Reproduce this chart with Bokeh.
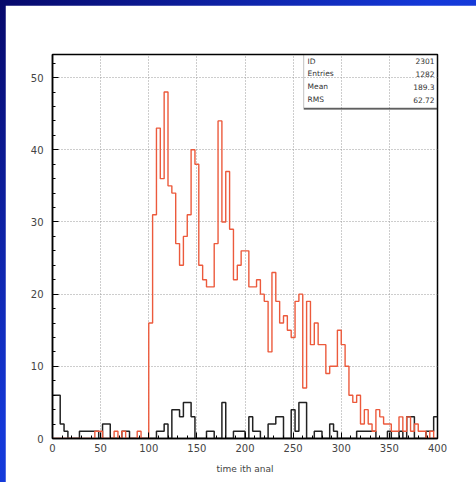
import numpy as np
from bokeh.plotting import figure
from bokeh.models import Range1d, SingleIntervalTicker, BoxAnnotation, ColumnDataSource
from bokeh.core.properties import value
from bokeh.layouts import column
from bokeh.embed import file_html
from bokeh.resources import INLINE

# ---------------- data ----------------
X_MIN, X_MAX, BIN_WIDTH = 0, 400, 4
Y_MAX = 53.2

red_counts = [
    0, 0, 0, 0, 0, 0, 0, 0, 0, 0,
    0, 1, 1, 0, 0, 0, 1, 0, 1, 0,
    0, 0, 1, 0, 0, 16, 31, 43, 36, 48,
    35, 34, 27, 24, 28, 31, 40, 38, 24, 22,
    21, 21, 27, 44, 30, 37, 29, 22, 24, 26,
    26, 21, 21, 22, 20, 19, 12, 23, 19, 16,
    17, 15, 14, 19, 20, 7, 19, 13, 16, 13,
    13, 9, 10, 10, 15, 13, 10, 6, 5, 6,
    2, 4, 2, 1, 4, 3, 2, 2, 1, 1,
    3, 1, 3, 1, 2, 1, 1, 0, 1, 0,
]

black_counts = [
    6, 6, 2, 1, 0, 0, 0, 1, 1, 1,
    1, 1, 0, 2, 2, 0, 0, 0, 1, 1,
    0, 0, 0, 0, 0, 0, 0, 1, 1, 2,
    0, 4, 4, 3, 5, 5, 3, 0, 0, 0,
    1, 1, 0, 0, 5, 0, 0, 1, 1, 1,
    0, 3, 1, 1, 0, 0, 2, 2, 3, 3,
    0, 0, 4, 1, 5, 5, 0, 0, 1, 1,
    0, 0, 2, 1, 0, 0, 0, 0, 0, 1,
    1, 1, 1, 1, 0, 0, 0, 1, 0, 0,
    1, 0, 3, 3, 0, 0, 0, 1, 1, 3,
]

stats_labels = ["ID", "Entries", "Mean", "RMS"]
stats_values = ["2301", "1282", "189.3", "62.72"]
x_axis_title = "time ith anal"

# ---------------- figure ----------------
p = figure(width=471, height=477, output_backend="svg", toolbar_location=None,
           x_range=Range1d(X_MIN, X_MAX), y_range=Range1d(0, Y_MAX),
           min_border_left=47, min_border_right=39, min_border_top=49,
           min_border_bottom=44)
p.background_fill_color = "white"
p.border_fill_color = "white"
p.outline_line_color = "black"
p.outline_line_width = 1.5

p.xaxis.ticker = SingleIntervalTicker(interval=50, num_minor_ticks=5)
p.yaxis.ticker = SingleIntervalTicker(interval=10, num_minor_ticks=5)

for ax in (p.xaxis, p.yaxis):
    ax.axis_line_color = "black"
    ax.axis_line_width = 1.5
    ax.major_tick_out = 0
    ax.major_tick_in = 6
    ax.minor_tick_out = 0
    ax.minor_tick_in = 3
    ax.major_tick_line_color = "black"
    ax.minor_tick_line_color = "black"
    ax.major_label_text_font = "DejaVu Sans"
    ax.major_label_text_font_size = "10px"
    ax.major_label_text_color = "#444444"

p.xaxis.major_label_standoff = 5
p.yaxis.major_label_standoff = 9
p.xaxis.axis_label = x_axis_title
p.xaxis.axis_label_text_font = "DejaVu Sans"
p.xaxis.axis_label_text_font_size = "9px"
p.xaxis.axis_label_text_font_style = "normal"
p.xaxis.axis_label_text_color = "#444444"
p.xaxis.axis_label_standoff = 9

for g in (p.xgrid, p.ygrid):
    g.grid_line_color = "#9a9a9a"
    g.grid_line_dash = "1 2"
    g.grid_line_width = 1

# ---------------- histograms ----------------
edges = np.arange(X_MIN, X_MAX + BIN_WIDTH, BIN_WIDTH)
black_y = np.append(np.array(black_counts, dtype=float), black_counts[-1])
red_y = np.append(np.array(red_counts, dtype=float), red_counts[-1])

p.step(x=edges, y=black_y, mode="after", line_color="#222222", line_width=1.5)
p.step(x=edges, y=red_y, mode="after", line_color="#ec5a3c", line_width=1.4)

# ---------------- stats box ----------------
box_left, box_bottom = 261, 45.8
p.add_layout(BoxAnnotation(left=box_left, right=X_MAX, bottom=box_bottom, top=Y_MAX,
                           fill_alpha=0, line_color="#333333", line_width=1))
p.segment(x0=[box_left], y0=[box_bottom - 0.12], x1=[X_MAX], y1=[box_bottom - 0.12],
          line_color="#333333", line_width=1.2)

row_y = [52.26, 50.55, 48.75, 46.95]
src = ColumnDataSource(dict(lx=[265] * 4, rx=[397] * 4, y=row_y,
                            lab=stats_labels, val=stats_values))
p.text(x="lx", y="y", text="lab", source=src, text_font=value("DejaVu Sans"),
       text_font_size="7.5px", text_color="#333333", text_baseline="middle",
       text_align="left")
p.text(x="rx", y="y", text="val", source=src, text_font=value("DejaVu Sans"),
       text_font_size="7.5px", text_color="#333333", text_baseline="middle",
       text_align="right")

layout = column(p, styles={
    "background": "linear-gradient(135deg, #06086a 0%, #1438d8 45%, #1a52ee 100%)",
    "padding": "5px 0px 0px 5px",
})

with open("out.html", "w") as f:
    f.write(file_html(layout, INLINE))
